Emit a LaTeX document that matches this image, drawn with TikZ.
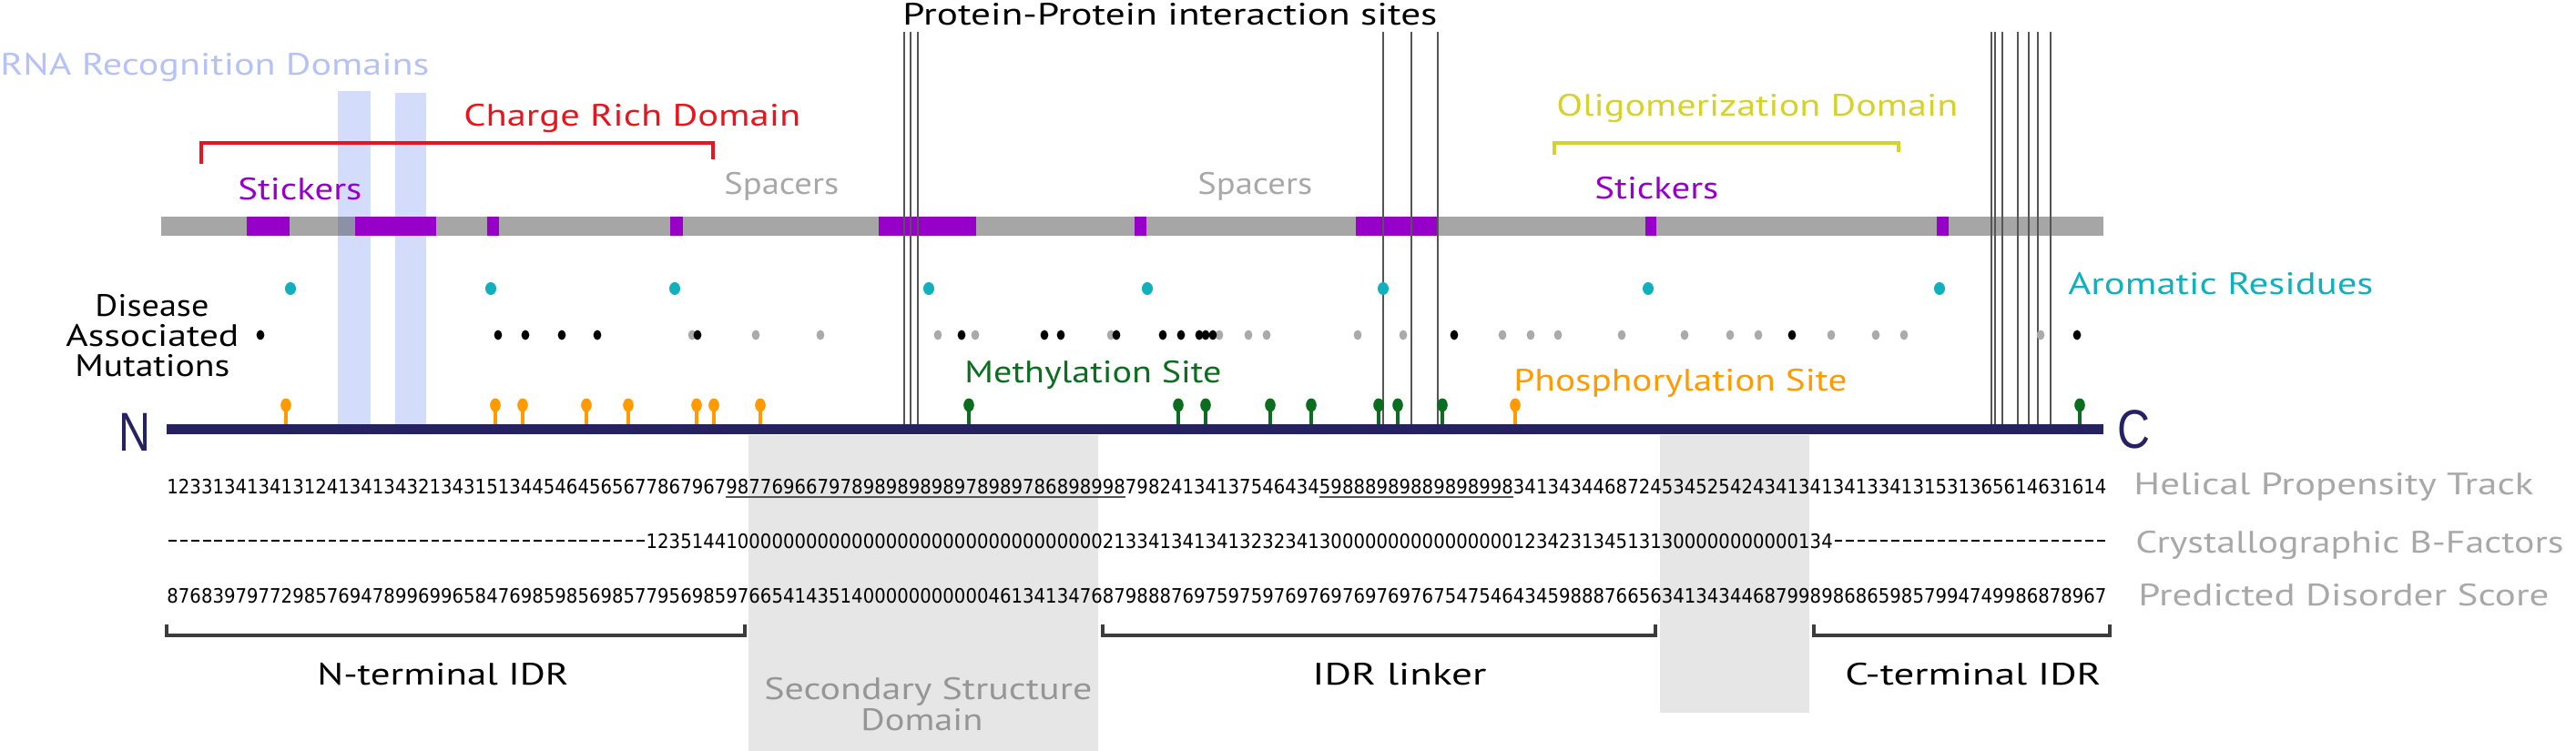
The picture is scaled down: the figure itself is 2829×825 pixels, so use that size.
\documentclass[tikz,border=0pt]{standalone}
\usepackage{fontspec}
\setmainfont{PT Sans}
\newfontfamily\digitfont{DejaVu Sans}
\newfontfamily\termfont{Liberation Sans}
\usepackage{graphicx}
\definecolor{navy}{RGB}{38,34,98}
\definecolor{stickpurple}{RGB}{150,0,200}
\definecolor{bargray}{RGB}{166,166,166}
\definecolor{colblue}{RGB}{212,220,252}
\definecolor{overlapc}{RGB}{140,145,168}
\definecolor{rnablue}{RGB}{182,194,246}
\definecolor{redc}{RGB}{230,22,30}
\definecolor{yellowc}{RGB}{214,210,44}
\definecolor{tealc}{RGB}{18,176,188}
\definecolor{greenc}{RGB}{10,110,30}
\definecolor{orangec}{RGB}{255,154,0}
\definecolor{lblgray}{RGB}{168,168,168}
\definecolor{ssgray}{RGB}{230,230,230}
\definecolor{sstext}{RGB}{150,150,150}
\definecolor{ppic}{RGB}{85,85,85}
\definecolor{brkc}{RGB}{60,60,60}
\definecolor{mutgray}{RGB}{170,170,170}
\ExplSyntaxOn
\NewDocumentCommand\digitrow{m}{
  \tl_map_inline:nn {#1} {
    \str_if_eq:nnTF {##1} {-}
      {\makebox[6.265pt][c]{\rule[3.8pt]{4.3pt}{0.85pt}}}
      {\makebox[6.265pt][c]{\scalebox{0.9}[1]{##1}}}
  }
}
\ExplSyntaxOff
\newcommand\fitw[2]{\resizebox{#1pt}{\height}{#2}}
\tikzset{
  lbl/.style={inner sep=0pt, anchor=base west, font=\fontsize{17pt}{20pt}\selectfont},
  digits/.style={inner sep=0pt, anchor=base west, font=\digitfont\fontsize{10.9pt}{12pt}\selectfont},
  ppiline/.style={draw=ppic, line width=1.1pt},
  bracketline/.style={draw=brkc, line width=2pt},
  uline/.style={draw=ppic, line width=0.85pt},
}
\begin{document}
\begin{tikzpicture}[x=0.5pt,y=-0.5pt]
\useasboundingbox (0,0) rectangle (2829,825);
% secondary structure shading
\fill[ssgray] (822,478) rectangle (1206,825);
\fill[ssgray] (1823,478) rectangle (1987,783);
% RNA recognition columns
\fill[colblue] (371,100) rectangle (407,466);
\fill[colblue] (434,102) rectangle (468,466);
% stickers and spacers bar
\fill[bargray] (177,238) rectangle (2310,259);
\foreach \a/\b in {271/318,390/479,535/548,736/750,965/1072,1246/1259,1489/1579,1807/1819,2127/2140}
  \fill[stickpurple] (\a,238) rectangle (\b,259);
\fill[overlapc] (371,238) rectangle (390,259);
% protein-protein interaction lines
\foreach \x in {993,1000,1008,1519,1550,1579,2187,2191,2199,2216,2228,2238,2252}
  \draw[ppiline] (\x,35) -- (\x,466);
% aromatic residues
\foreach \x in {319,539,741,1020,1260,1519,1810,2130}
  \fill[tealc] (\x,317) ellipse [x radius=3pt, y radius=3.5pt];
% disease mutations
\foreach \x in {760,830,901,1030,1071,1220,1339,1371,1391,1491,1541,1650,1681,1711,1781,1850,1900,1931,2011,2060,2091,2241}
  \fill[mutgray] (\x,368) ellipse [x radius=2.2pt, y radius=2.7pt];
\foreach \x in {286,547,577,617,656,766,1056,1147,1165,1226,1277,1297,1317,1324,1332,1597,1968,2281}
  \fill[black] (\x,368) ellipse [x radius=2.2pt, y radius=2.7pt];
% phosphorylation pins
\foreach \x in {314,544,574,644,690,765,784,835,1664}{
  \draw[orangec, line width=1.6pt] (\x,446) -- (\x,466);
  \fill[orangec] (\x,445) ellipse [x radius=2.9pt, y radius=3.7pt];
}
% methylation pins
\foreach \x in {1064,1294,1324,1395,1440,1514,1535,1584,2284}{
  \draw[greenc, line width=1.6pt] (\x,446) -- (\x,466);
  \fill[greenc] (\x,445) ellipse [x radius=2.9pt, y radius=3.7pt];
}
% main protein bar
\fill[navy] (183,466) rectangle (2310,477);
\node[inner sep=0pt, anchor=base west, text=navy, font=\termfont\fontsize{30pt}{30pt}\selectfont] (nlabel) at (130,495) {\fitw{17.5}{N}};
\node[inner sep=0pt, anchor=base west, text=navy, font=\termfont\fontsize{30pt}{30pt}\selectfont] (clabel) at (2325,492) {\fitw{18}{C}};
% top labels
\node[lbl, text=rnablue] (rna) at (0,82) {\fitw{235.5}{RNA Recognition Domains}};
\node[lbl, text=redc] (charge) at (509,138) {\fitw{185}{Charge Rich Domain}};
\draw[redc, line width=1.7pt] (221,180) -- (221,157) -- (783,157) -- (783,175);
\node[lbl, text=yellowc] (oligo) at (1709,127) {\fitw{220.5}{Oligomerization Domain}};
\draw[yellowc, line width=1.7pt] (1707,170) -- (1707,157) -- (2085,157) -- (2085,167);
\node[lbl, text=black] (ppi) at (991,27) {\fitw{293.5}{Protein-Protein interaction sites}};
\node[lbl, text=stickpurple] (stick1) at (261,219) {\fitw{68}{Stickers}};
\node[lbl, text=stickpurple] (stick2) at (1751,218) {\fitw{68}{Stickers}};
\node[lbl, text=lblgray] (spac1) at (795,213) {\fitw{63}{Spacers}};
\node[lbl, text=lblgray] (spac2) at (1315,213) {\fitw{63}{Spacers}};
\node[lbl, text=tealc] (arom) at (2271,323) {\fitw{167.5}{Aromatic Residues}};
\node[lbl, text=black] (dis1) at (104,347) {\fitw{62.5}{Disease}};
\node[lbl, text=black] (dis2) at (72,380) {\fitw{95}{Associated}};
\node[lbl, text=black] (dis3) at (82,413) {\fitw{85}{Mutations}};
\node[lbl, text=greenc] (meth) at (1059,420) {\fitw{141}{Methylation Site}};
\node[lbl, text=orangec] (phos) at (1662,429) {\fitw{183}{Phosphorylation Site}};
% number tracks
\node[digits] (helix) at (183,542.5) {\digitrow{%
1233134134131241341343213431513445464565677867967%
98776966797898989898978989786898998%
79824134137546434%
59888989889898998%
3413434468724534525424341341341334131531365614631614}};
\draw[uline] (797,546) -- (1235.5,546);
\draw[uline] (1448.5,546) -- (1661.5,546);
\node[digits] (bfac) at (183,602.5) {\digitrow{%
------------------------------------------%
12351441%
00000000000000000000000000000000%
21334134134132323413%
0000000000000000%
12342313451313%
00000000000%
134%
------------------------}};
\node[digits] (disorder) at (183,662.5) {\digitrow{%
87683979772985769478996996584769%
85985698577956985976654143514000%
00000000%
461341347687988876975975%
97697697697697675475464345988876%
65634134344687998986865985799474%
9986878967}};
\node[lbl, text=lblgray] (helixlbl) at (2343,543) {\fitw{219.5}{Helical Propensity Track}};
\node[lbl, text=lblgray] (bfaclbl) at (2345,607) {\fitw{235}{Crystallographic B-Factors}};
\node[lbl, text=lblgray] (disorderlbl) at (2348,665) {\fitw{225.5}{Predicted Disorder Score}};
% region brackets
\draw[bracketline] (183,686) -- (183,698) -- (818,698) -- (818,686);
\draw[bracketline] (1211,686) -- (1211,698) -- (1818,698) -- (1818,686);
\draw[bracketline] (1992,686) -- (1992,698) -- (2317,698) -- (2317,686);
\node[lbl, text=black] (nidr) at (348,752) {\fitw{138}{N-terminal IDR}};
\node[lbl, text=black] (linker) at (1441,752) {\fitw{95.5}{IDR linker}};
\node[lbl, text=black] (cidr) at (2026,752) {\fitw{140.5}{C-terminal IDR}};
\node[lbl, text=sstext] (ss1) at (839,768) {\fitw{180}{Secondary Structure}};
\node[lbl, text=sstext] (ss2) at (945,802) {\fitw{67}{Domain}};
\end{tikzpicture}
\end{document}
